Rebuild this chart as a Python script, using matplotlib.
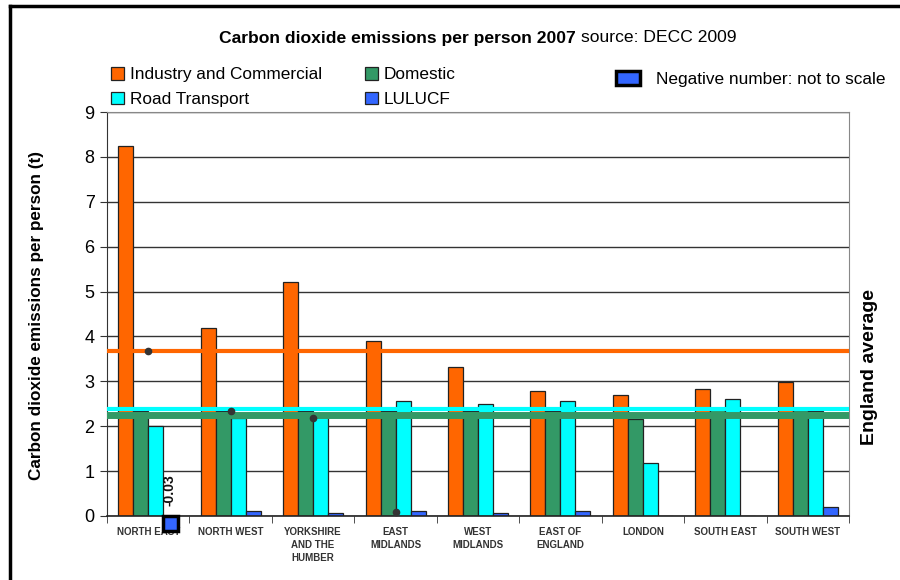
import matplotlib
matplotlib.use("Agg")
import matplotlib.pyplot as plt
import numpy as np
from matplotlib.patches import Rectangle
from matplotlib.lines import Line2D

plt.rcParams['font.family'] = ['Liberation Sans', 'DejaVu Sans']

regions = ["NORTH EAST", "NORTH WEST", "YORKSHIRE\nAND THE\nHUMBER", "EAST\nMIDLANDS",
           "WEST\nMIDLANDS", "EAST OF\nENGLAND", "LONDON", "SOUTH EAST", "SOUTH WEST"]
industry = [8.25, 4.18, 5.22, 3.90, 3.33, 2.79, 2.69, 2.82, 2.99]
domestic = [2.35, 2.35, 2.35, 2.35, 2.33, 2.34, 2.15, 2.41, 2.37]
road = [2.00, 2.19, 2.20, 2.57, 2.49, 2.56, 1.17, 2.60, 2.34]
lulucf = [-0.03, 0.11, 0.07, 0.11, 0.07, 0.11, 0.0, 0.0, 0.19]
avg_industry = 3.68
avg_road = 2.39
avg_domestic = 2.24
marker_vals = [3.67, 2.33, 2.18, 0.08]
yticks = list(range(0, 10))

NEG_DISPLAY = -0.33  # negative value drawn at fixed size (not to scale)

c_ind, c_dom, c_road, c_lu = "#FF6600", "#339966", "#00FFFF", "#3366FF"

fig = plt.figure(figsize=(9, 5.8), dpi=100)
ax = fig.add_axes([107/900, 1-516/580, (849-107)/900, (516-112)/580])

x = np.arange(len(regions))
w = 0.182
offs = [-1.5*w, -0.5*w, 0.5*w, 1.5*w]
ax.bar(x+offs[0], industry, w, color=c_ind, edgecolor="#222222", lw=0.9, zorder=2)
ax.bar(x+offs[1], domestic, w, color=c_dom, edgecolor="#222222", lw=0.9, zorder=2)
ax.bar(x+offs[2], road, w, color=c_road, edgecolor="#222222", lw=0.9, zorder=2)
lu_pos = [v if v >= 0 else 0 for v in lulucf]
ax.bar(x+offs[3], lu_pos, w, color=c_lu, edgecolor="#222222", lw=0.9, zorder=2)
for i, v in enumerate(lulucf):
    if v < 0:
        ax.bar(x[i]+offs[3], NEG_DISPLAY, w, color=c_lu, edgecolor="black", lw=2.5,
               zorder=5, clip_on=False)
        ax.text(x[i]+offs[3] - 0.01, 0.22, f"{v:.2f}", rotation=90, ha="center", va="bottom",
                fontsize=10, fontweight="bold", color="#111111", zorder=6)

ax.axhline(avg_industry, color=c_ind, lw=3, zorder=4)
ax.axhline(avg_domestic, color=c_dom, lw=5, zorder=4)
ax.axhline(avg_road, color=c_road, lw=3, zorder=4)
ax.plot(x[:len(marker_vals)], marker_vals, ls="none", marker="o", ms=4.5,
        color="#333333", zorder=5)

ax.set_xlim(-0.5, len(regions)-0.5)
ax.set_ylim(0, 9)
ax.set_yticks(yticks)
ax.set_yticklabels([str(t) for t in yticks], fontsize=13)
ax.yaxis.grid(True, color="#333333", lw=1)
ax.set_axisbelow(True)
ax.set_xticks(x)
ax.set_xticklabels(regions, fontsize=7, fontweight="bold", color="#333333", linespacing=1.35)
ax.set_xticks(np.arange(-0.5, len(regions), 1), minor=True)
ax.tick_params(axis="x", which="major", length=0, pad=8)
ax.tick_params(axis="x", which="minor", length=5, direction="out", color="#333333")
ax.tick_params(axis="y", length=5, direction="out", color="#333333", pad=4)
ax.spines["top"].set_color("#888888")
ax.spines["right"].set_color("#888888")
ax.spines["left"].set_color("#333333")
ax.spines["bottom"].set_color("#222222")
ax.spines["bottom"].set_linewidth(1.2)

fig.text(37/900, 1-316/580, "Carbon dioxide emissions per person (t)", rotation=90,
         fontsize=12.3, fontweight="bold", ha="center", va="center")
fig.text(870/900, 1-367/580, "England average", rotation=90, fontsize=14,
         fontweight="bold", ha="center", va="center")

# title: bold part + regular part, centred as a whole
fig.canvas.draw()
r = fig.canvas.get_renderer()
t1 = fig.text(0, 1-38/580, "Carbon dioxide emissions per person 2007", fontsize=12.6,
              fontweight="bold", ha="left", va="center")
t2 = fig.text(0, 1-38/580, "source: DECC 2009", fontsize=12.6, ha="left", va="center")
w1 = t1.get_window_extent(renderer=r).width
w2 = t2.get_window_extent(renderer=r).width
gap = 5
start = 478 - (w1 + gap + w2) / 2
t1.set_x(start/900)
t2.set_x((start + w1 + gap)/900)

handles = [Rectangle((0, 0), 1, 1, fc=c_ind, ec="#222222", lw=0.9),
           Rectangle((0, 0), 1, 1, fc=c_road, ec="#222222", lw=0.9),
           Rectangle((0, 0), 1, 1, fc=c_dom, ec="#222222", lw=0.9),
           Rectangle((0, 0), 1, 1, fc=c_lu, ec="#222222", lw=0.9)]
labels = ["Industry and Commercial", "Road Transport", "Domestic", "LULUCF"]
fig.legend(handles, labels, ncol=2, loc="upper left", bbox_to_anchor=(104/900, 1-60/580),
           frameon=False, fontsize=12.4, handlelength=0.75, handleheight=0.75,
           handletextpad=0.35, columnspacing=2.5, labelspacing=0.55, borderaxespad=0)
neg = Rectangle((0, 0), 1, 1, fc=c_lu, ec="black", lw=2.5)
fig.legend([neg], ["Negative number: not to scale"], loc="upper left",
           bbox_to_anchor=(609/900, 1-64/580), frameon=False, fontsize=12.4,
           handlelength=1.4, handleheight=0.9, handletextpad=0.9, borderaxespad=0)

# outer frame (left and top)
fig.add_artist(Line2D([10/900, 10/900], [0, 1-6/580], color="black", lw=2.5,
                      transform=fig.transFigure))
fig.add_artist(Line2D([10/900, 1], [1-6/580, 1-6/580], color="black", lw=2.5,
                      transform=fig.transFigure))

fig.savefig("out.png", dpi=100)
